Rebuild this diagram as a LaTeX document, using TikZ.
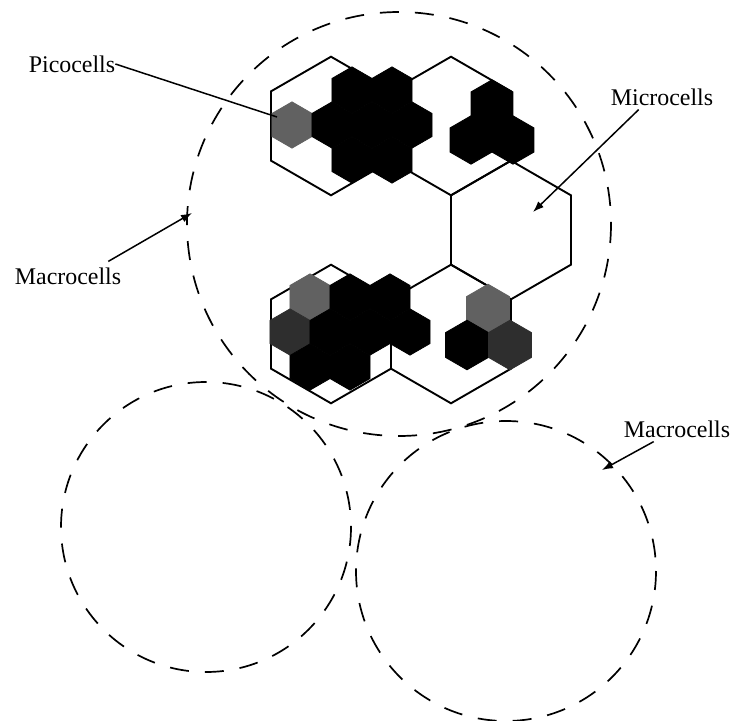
\documentclass[tikz,border=0pt]{standalone}
\usepackage{fontspec}
\setmainfont{Liberation Serif}
\usetikzlibrary{arrows.meta,calc}
\newcommand{\hexcell}[4]{%
  \path[#4] (#1,#2) +(90:#3) -- +(30:#3) -- +(-30:#3) -- +(-90:#3) -- +(-150:#3) -- +(150:#3) -- cycle;}
\begin{document}
\begin{tikzpicture}[x=1bp,y=-1bp,
  macro/.style={draw, line width=1.7bp, dash pattern=on 19bp off 16bp},
  microhex/.style={draw, line width=1.9bp, line join=miter},
  picoB/.style={fill=black, draw=black, line width=0.8bp},
  picoG/.style={fill=black!62, draw=black!62, line width=0.8bp},
  picoD/.style={fill=black!82, draw=black!82, line width=0.8bp},
  lbl/.style={font=\fontsize{24}{28}\selectfont, inner sep=0pt},
  ptr/.style={line width=1.5bp, -{Latex[length=11bp,width=8bp]}},
  plainptr/.style={line width=1.5bp}]
\useasboundingbox (0,0) rectangle (744,721);
\fill[white] (0,0) rectangle (744,721);
% macrocells
\draw[macro] (399,224) circle[radius=212];
\draw[macro] (206,527) circle[radius=145];
\draw[macro] (506,571) circle[radius=150];
% microcells
\hexcell{331}{126}{69.3}{microhex}
\hexcell{451}{126}{69.3}{microhex}
\hexcell{511}{230}{69.3}{microhex}
\hexcell{331}{334}{69.3}{microhex}
\hexcell{451}{334}{69.3}{microhex}
% picocells top-left
\hexcell{292}{125}{23.1}{picoG}
\hexcell{352}{90}{23.1}{picoB}
\hexcell{392}{90}{23.1}{picoB}
\hexcell{332}{125}{23.1}{picoB}
\hexcell{372}{125}{23.1}{picoB}
\hexcell{412}{125}{23.1}{picoB}
\hexcell{352}{160}{23.1}{picoB}
\hexcell{392}{160}{23.1}{picoB}
% picocells top-right
\hexcell{492}{104}{24.2}{picoB}
\hexcell{471}{140}{24.2}{picoB}
\hexcell{513}{140}{24.2}{picoB}
% picocells bottom-left
\hexcell{310}{297}{23.1}{picoG}
\hexcell{350}{297}{23.1}{picoB}
\hexcell{390}{297}{23.1}{picoB}
\hexcell{290}{332}{23.1}{picoD}
\hexcell{330}{332}{23.1}{picoB}
\hexcell{370}{332}{23.1}{picoB}
\hexcell{410}{332}{23.1}{picoB}
\hexcell{310}{367}{23.1}{picoB}
\hexcell{350}{367}{23.1}{picoB}
% picocells bottom-right
\hexcell{488}{309}{24.8}{picoG}
\hexcell{467}{345}{24.8}{picoB}
\hexcell{510}{345}{24.8}{picoD}
% labels
\node[lbl] (pico) at (72,64) {Picocells};
\node[lbl] (micro) at (662,97) {Microcells};
\node[lbl] (macL) at (68,276) {Macrocells};
\node[lbl] (macR) at (677,429) {Macrocells};
\coordinate (picoEnd) at (277,117);
\coordinate (microEnd) at (533,212);
\coordinate (macLEnd) at (192,213);
\coordinate (macREnd) at (602,470);
\draw[plainptr] (pico.east) -- (picoEnd);
\draw[ptr] ($(micro.south west)+(28,4)$) -- (microEnd);
\draw[ptr] ($(macL.north east)+(-13,-6)$) -- (macLEnd);
\draw[ptr] ($(macR.south west)+(30,4)$) -- (macREnd);
\end{tikzpicture}
\end{document}
